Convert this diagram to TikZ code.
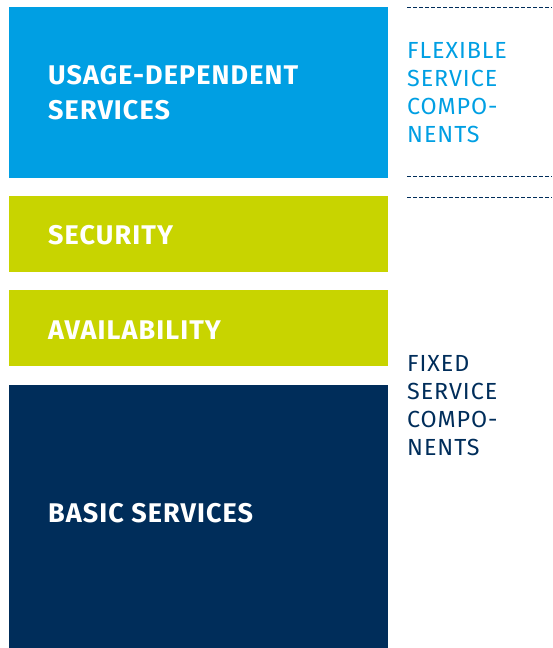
\documentclass[tikz,border=0pt]{standalone}
\usepackage{fontspec}
\setmainfont{Fira Sans}[LetterSpace=4]
\definecolor{cblue}{HTML}{009FE3}
\definecolor{clime}{HTML}{C8D400}
\definecolor{cnavy}{HTML}{002D5A}
\begin{document}
\begin{tikzpicture}[x=1pt,y=-1pt,
  box/.style={inner sep=0pt,outer sep=0pt},
  boxtext/.style={anchor=base west,inner sep=0pt,text=white,font=\fontsize{27}{35}\selectfont\bfseries,align=left},
  sidetext/.style={anchor=base west,inner sep=0pt,font=\fontsize{23.3}{28}\selectfont,align=left},
  sep/.style={cnavy,line width=0.9pt,dash pattern=on 4pt off 2pt}]
\useasboundingbox (0,0) rectangle (552,648);
\fill[cblue] (9,7) rectangle (388,178);
\fill[clime] (9,196) rectangle (388,272);
\fill[clime] (9,290) rectangle (388,366);
\fill[cnavy] (9,385) rectangle (388,648);
\node[boxtext] (usage) at (48,119.5) {USAGE-DEPENDENT\\SERVICES};
\node[boxtext] (security) at (48,244) {SECURITY};
\node[boxtext] (avail) at (48,339) {AVAILABILITY};
\node[boxtext] (basic) at (48,522) {BASIC SERVICES};
\node[sidetext,text=cblue] (flex) at (407,142.5) {FLEXIBLE\\SERVICE\\COMPO-\\NENTS};
\node[sidetext,text=cnavy] (fixed) at (407,455) {FIXED\\SERVICE\\COMPO-\\NENTS};
\coordinate (s1a) at (407,7.5); \coordinate (s1b) at (552,7.5);
\coordinate (s2a) at (407,176.5); \coordinate (s2b) at (552,176.5);
\coordinate (s3a) at (407,197); \coordinate (s3b) at (552,197);
\draw[sep] (s1a) -- (s1b);
\draw[sep] (s2a) -- (s2b);
\draw[sep] (s3a) -- (s3b);
\end{tikzpicture}
\end{document}
